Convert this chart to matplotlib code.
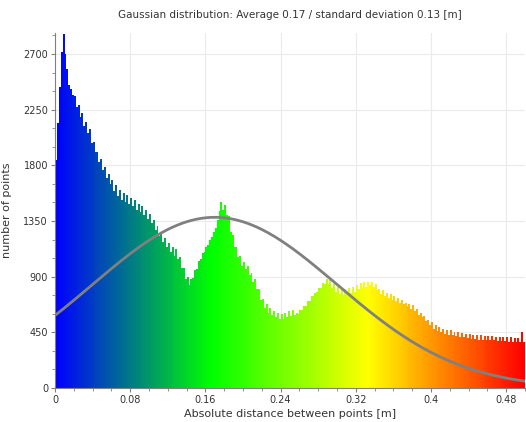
import numpy as np
import matplotlib
matplotlib.use("Agg")
import matplotlib.pyplot as plt
from matplotlib.colors import LinearSegmentedColormap
from matplotlib.ticker import MultipleLocator

# histogram of distances, bin width 0.002 m, counts
bin_width = 0.002
counts = [
    1840, 2140, 2430, 2720, 2860, 2700, 2580, 2450, 2420, 2370,
    2360, 2270, 2290, 2190, 2220, 2120, 2150, 2060, 2090, 1980,
    1990, 1910, 1910, 1830, 1850, 1760, 1790, 1700, 1730, 1650,
    1680, 1590, 1640, 1550, 1600, 1520, 1580, 1500, 1560, 1490,
    1540, 1470, 1520, 1440, 1490, 1420, 1470, 1400, 1440, 1370,
    1410, 1330, 1360, 1280, 1310, 1230, 1260, 1180, 1210, 1140,
    1170, 1100, 1140, 1070, 1120, 1040, 1060, 970, 970, 880,
    900, 830, 880, 890, 950, 960, 1030, 1040, 1090, 1100,
    1140, 1160, 1200, 1220, 1260, 1290, 1360, 1430, 1500, 1440,
    1480, 1400, 1390, 1260, 1240, 1140, 1140, 1060, 1070, 990,
    1020, 960, 990, 910, 930, 860, 880, 800, 800, 710,
    720, 650, 680, 610, 650, 590, 620, 570, 610, 560,
    600, 560, 610, 570, 620, 580, 630, 590, 610, 600,
    630, 630, 660, 660, 700, 700, 740, 740, 770, 780,
    810, 810, 850, 840, 880, 840, 870, 810, 840, 780,
    820, 760, 800, 750, 800, 760, 810, 770, 820, 780,
    830, 800, 850, 810, 860, 820, 860, 830, 860, 820,
    840, 790, 800, 760, 790, 740, 770, 730, 760, 710,
    740, 700, 730, 690, 710, 680, 690, 660, 680, 640,
    670, 620, 640, 590, 610, 570, 580, 540, 550, 510,
    530, 480, 510, 460, 490, 450, 480, 440, 470, 430,
    465, 425, 455, 420, 450, 415, 445, 410, 440, 405,
    435, 400, 430, 395, 430, 390, 425, 390, 420, 385,
    420, 385, 420, 385, 415, 380, 415, 380, 410, 380,
    410, 375, 410, 375, 405, 370, 405, 370, 450, 370,
]

# fitted gaussian (from the title)
g_mean = 0.17
g_std = 0.13
g_peak = 1380

x_max = 0.5
y_max = 2870

cmap = LinearSegmentedColormap.from_list(
    "bgyr", ["#0000ff", "#00ff00", "#ffff00", "#ff0000"])

lefts = np.arange(len(counts)) * bin_width
centers = lefts + bin_width / 2

fig = plt.figure(figsize=(5.26, 4.22), dpi=100)
ax = fig.add_axes([0.1046, 0.0806, 0.8934, 0.8412])

ax.bar(lefts, counts, width=bin_width * 1.05, align="edge",
       color=cmap(centers / x_max), linewidth=0, zorder=2)

gx = np.linspace(0, x_max, 400)
gy = g_peak * np.exp(-((gx - g_mean) ** 2) / (2 * g_std ** 2))
ax.plot(gx, gy, color="#808080", linewidth=2, zorder=3)

ax.set_xlim(0, x_max)
ax.set_ylim(0, y_max)
ax.xaxis.set_major_locator(MultipleLocator(0.08))
ax.xaxis.set_minor_locator(MultipleLocator(0.02))
ax.yaxis.set_major_locator(MultipleLocator(450))
ax.yaxis.set_minor_locator(MultipleLocator(150))
ax.set_xticklabels([f"{v:g}" for v in ax.get_xticks()])

ax.grid(True, which="major", color="#ebebeb", linewidth=0.8, zorder=0)
ax.set_axisbelow(True)
for s in ["top", "right"]:
    ax.spines[s].set_visible(False)
for s in ["left", "bottom"]:
    ax.spines[s].set_color("#808080")

ax.tick_params(which="major", length=3, color="#808080", labelsize=7,
               labelcolor="#333333", pad=2)
ax.tick_params(which="minor", length=2, color="#808080")

ax.set_title("Gaussian distribution: Average 0.17 / standard deviation 0.13 [m]",
             fontsize=7.5, color="#333333", pad=11)
ax.set_xlabel("Absolute distance between points [m]", fontsize=8,
              color="#333333", labelpad=3)
ax.set_ylabel("number of points", fontsize=8, color="#333333", labelpad=8)

fig.savefig("out.png", dpi=100)
